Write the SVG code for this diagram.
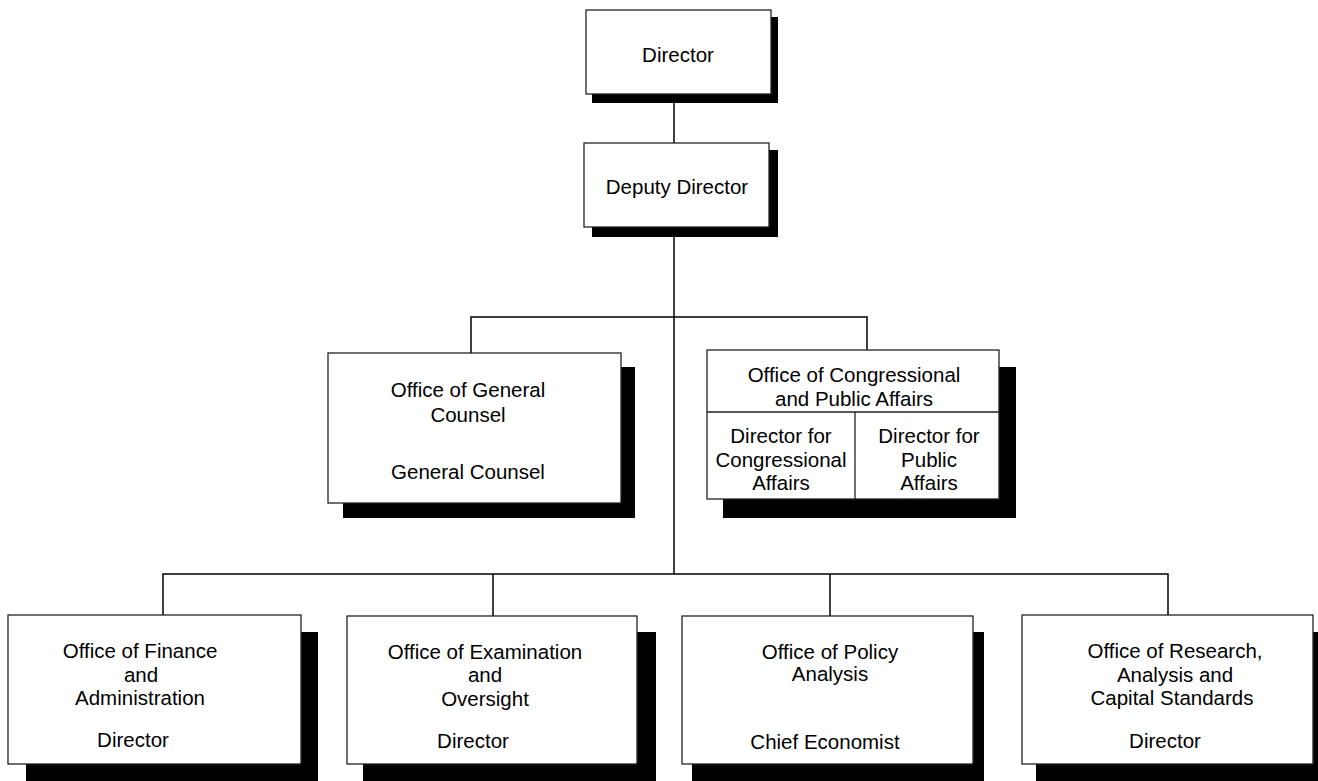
<svg xmlns="http://www.w3.org/2000/svg" width="1318" height="781" viewBox="0 0 1318 781">
<style>
.box{fill:#fff;stroke:#222;stroke-width:1.3}
.sh{fill:#000}
.ln{fill:none;stroke:#000;stroke-width:1.5}
text{font-family:"Liberation Sans",Arial,sans-serif;font-size:20.5px;fill:#000;text-anchor:middle}
</style>
<rect width="1318" height="781" fill="#fff"/>
<g id="connectors">
<line class="ln" x1="674" y1="94" x2="674" y2="143"/>
<line class="ln" x1="674" y1="227" x2="674" y2="574"/>
<polyline class="ln" points="471,353 471,317 867,317 867,350"/>
<polyline class="ln" points="163,615 163,574 1168,574 1168,615"/>
<line class="ln" x1="493" y1="574" x2="493" y2="616"/>
<line class="ln" x1="830" y1="574" x2="830" y2="616"/>
</g>
<g id="director">
<rect class="sh" x="592" y="17" width="186" height="86"/>
<rect class="box" x="586" y="10" width="185" height="84"/>
<text x="678" y="62">Director</text>
</g>
<g id="deputy">
<rect class="sh" x="592" y="150" width="186" height="87"/>
<rect class="box" x="584" y="143" width="185" height="84"/>
<text x="677" y="194">Deputy Director</text>
</g>
<g id="general-counsel">
<rect class="sh" x="343" y="367" width="292" height="151"/>
<rect class="box" x="328" y="353" width="293" height="150"/>
<text x="468" y="397">Office of General</text>
<text x="468" y="422">Counsel</text>
<text x="468" y="479">General Counsel</text>
</g>
<g id="congressional">
<rect class="sh" x="723" y="367" width="293" height="151"/>
<rect class="box" x="707" y="350" width="292" height="149"/>
<line stroke="#222" stroke-width="1.3" x1="707" y1="412" x2="999" y2="412"/>
<line stroke="#222" stroke-width="1.3" x1="855" y1="412" x2="855" y2="499"/>
<text x="854" y="382">Office of Congressional</text>
<text x="854" y="406">and Public Affairs</text>
<text x="781" y="443">Director for</text>
<text x="781" y="467">Congressional</text>
<text x="781" y="490">Affairs</text>
<text x="929" y="443">Director for</text>
<text x="929" y="467">Public</text>
<text x="929" y="490">Affairs</text>
</g>
<g id="finance">
<rect class="sh" x="26" y="632" width="292" height="160"/>
<rect class="box" x="8" y="615" width="293" height="149"/>
<text x="140" y="658">Office of Finance</text>
<text x="141" y="682">and</text>
<text x="140" y="705">Administration</text>
<text x="133" y="747">Director</text>
</g>
<g id="examination">
<rect class="sh" x="363" y="632" width="293" height="160"/>
<rect class="box" x="347" y="616" width="290" height="148"/>
<text x="485" y="659">Office of Examination</text>
<text x="485" y="682">and</text>
<text x="485" y="706">Oversight</text>
<text x="473" y="748">Director</text>
</g>
<g id="policy">
<rect class="sh" x="692" y="632" width="292" height="160"/>
<rect class="box" x="682" y="616" width="291" height="148"/>
<text x="830" y="659">Office of Policy</text>
<text x="830" y="681">Analysis</text>
<text x="825" y="749">Chief Economist</text>
</g>
<g id="research">
<rect class="sh" x="1036" y="632" width="300" height="160"/>
<rect class="box" x="1022" y="615" width="291" height="149"/>
<text x="1175" y="658">Office of Research,</text>
<text x="1175" y="682">Analysis and</text>
<text x="1172" y="705">Capital Standards</text>
<text x="1165" y="748">Director</text>
</g>
</svg>
